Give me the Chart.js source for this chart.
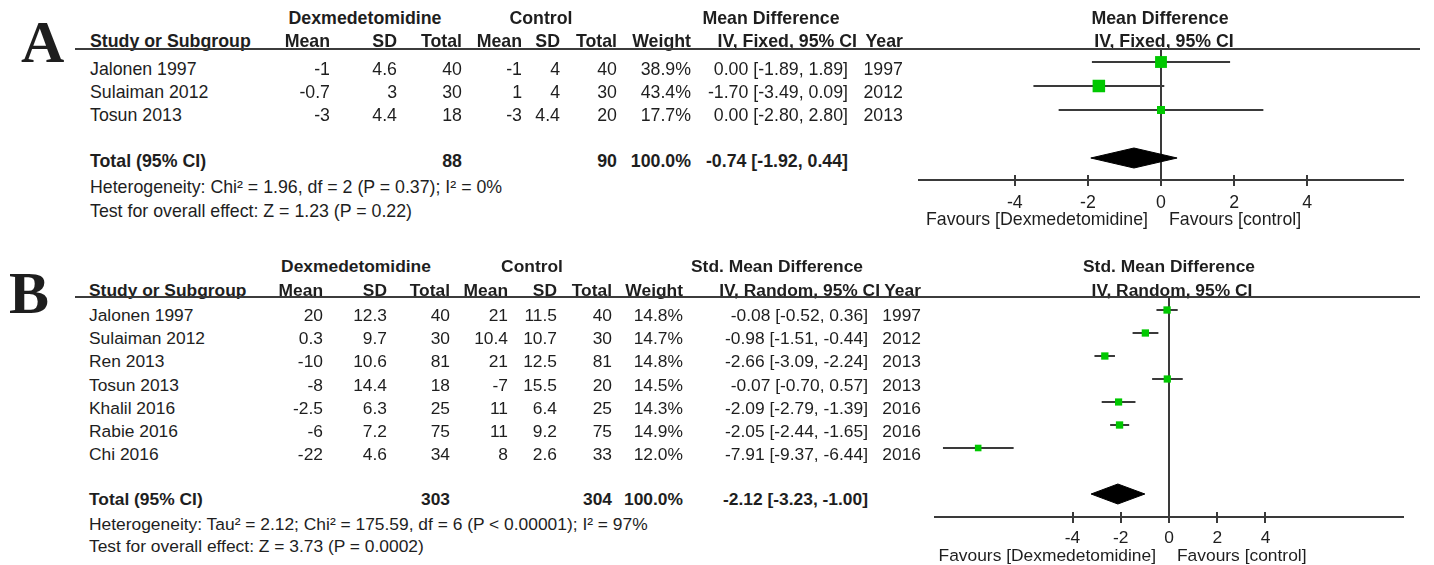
<!DOCTYPE html>
<html>
<head>
<meta charset="utf-8">
<script src="https://cdn.jsdelivr.net/npm/chart.js@4.4.1/dist/chart.umd.min.js"></script>
<style>
  html, body { margin: 0; padding: 0; background: #fff; }
  #page { position: relative; width: 1434px; height: 565px; overflow: hidden;
          font-family: "Liberation Sans", Arial, sans-serif; color: #1e1e1e; }
  .t { position: absolute; white-space: nowrap; line-height: 20px; }
  .rule { position: absolute; height: 2px; background: #3c3c3c; }
  canvas { position: absolute; }
</style>
</head>
<body>
<div id="page">
  <canvas id="plotA" width="534" height="240" style="left:900px;top:0px"></canvas>
  <canvas id="plotB" width="534" height="315" style="left:900px;top:250px"></canvas>
</div>
<script>
// ---------- Forest plot A: mean difference, fixed effect ----------
const studiesA   = ['Jalonen 1997', 'Sulaiman 2012', 'Tosun 2013'];
const yearsA     = [1997, 2012, 2013];
const dexMeanA   = [-1, -0.7, -3];
const dexSdA     = [4.6, 3, 4.4];
const dexTotalA  = [40, 30, 18];
const ctlMeanA   = [-1, 1, -3];
const ctlSdA     = [4, 4, 4.4];
const ctlTotalA  = [40, 30, 20];
const weightA    = [38.9, 43.4, 17.7];
const effectA    = [0.00, -1.70, 0.00];
const lowerA     = [-1.89, -3.49, -2.80];
const upperA     = [1.89, 0.09, 2.80];
const pooledA    = [-0.74, -1.92, 0.44];   // estimate, lower, upper
const totalsA    = [88, 90];
const hetA       = 'Heterogeneity: Chi\u00B2 = 1.96, df = 2 (P = 0.37); I\u00B2 = 0%';
const testA      = 'Test for overall effect: Z = 1.23 (P = 0.22)';

// ---------- Forest plot B: std. mean difference, random effects ----------
const studiesB   = ['Jalonen 1997', 'Sulaiman 2012', 'Ren 2013', 'Tosun 2013', 'Khalil 2016', 'Rabie 2016', 'Chi 2016'];
const yearsB     = [1997, 2012, 2013, 2013, 2016, 2016, 2016];
const dexMeanB   = [20, 0.3, -10, -8, -2.5, -6, -22];
const dexSdB     = [12.3, 9.7, 10.6, 14.4, 6.3, 7.2, 4.6];
const dexTotalB  = [40, 30, 81, 18, 25, 75, 34];
const ctlMeanB   = [21, 10.4, 21, -7, 11, 11, 8];
const ctlSdB     = [11.5, 10.7, 12.5, 15.5, 6.4, 9.2, 2.6];
const ctlTotalB  = [40, 30, 81, 20, 25, 75, 33];
const weightB    = [14.8, 14.7, 14.8, 14.5, 14.3, 14.9, 12.0];
const effectB    = [-0.08, -0.98, -2.66, -0.07, -2.09, -2.05, -7.91];
const lowerB     = [-0.52, -1.51, -3.09, -0.70, -2.79, -2.44, -9.37];
const upperB     = [0.36, -0.44, -2.24, 0.57, -1.39, -1.65, -6.44];
const pooledB    = [-2.12, -3.23, -1.00];
const totalsB    = [303, 304];
const hetB       = 'Heterogeneity: Tau\u00B2 = 2.12; Chi\u00B2 = 175.59, df = 6 (P < 0.00001); I\u00B2 = 97%';
const testB      = 'Test for overall effect: Z = 3.73 (P = 0.0002)';

// shared axis labels
const tickValues = [-4, -2, 0, 2, 4];
const favoursLeft  = 'Favours [Dexmedetomidine]';
const favoursRight = 'Favours [control]';

// ---------- text helpers ----------
const page = document.getElementById('page');
function put(s, x, base, o = {}) {
  const size = o.size || 17.5;
  const lh = 20;
  const asc = o.serif ? 0.891 : 0.905, desc = o.serif ? 0.216 : 0.212;
  const off = (lh - (asc + desc) * size) / 2 + asc * size;
  const d = document.createElement('div');
  d.className = 't';
  d.textContent = s;
  d.style.fontSize = size + 'px';
  d.style.top = (base - off) + 'px';
  if (o.bold) d.style.fontWeight = 'bold';
  if (o.under) d.style.textDecoration = 'underline';
  if (o.serif) d.style.fontFamily = '"Liberation Serif","Times New Roman",serif';
  const align = o.align || 'left';
  if (align === 'left') d.style.left = x + 'px';
  else if (align === 'right') { d.style.left = (x - 500) + 'px'; d.style.width = '500px'; d.style.textAlign = 'right'; }
  else { d.style.left = (x - 500) + 'px'; d.style.width = '1000px'; d.style.textAlign = 'center'; }
  page.appendChild(d);
}
function rule(x1, x2, y) {
  const d = document.createElement('div');
  d.className = 'rule';
  d.style.left = x1 + 'px'; d.style.width = (x2 - x1) + 'px'; d.style.top = (y - 1) + 'px';
  page.appendChild(d);
}
const fmt2 = v => v.toFixed(2);
const ciText = (e, l, u) => `${fmt2(e)} [${fmt2(l)}, ${fmt2(u)}]`;

function drawTable(p, L) {
  const f = L.size, c = L.cols;
  put(p.letter, L.letterX, L.letterBase, { size: 60, bold: true, serif: true });
  // group headings
  put('Dexmedetomidine', L.centers.dex, L.head1, { size: f, bold: true, align: 'center' });
  put('Control', L.centers.ctl, L.head1, { size: f, bold: true, align: 'center' });
  put(p.effectName, L.centers.eff, L.head1, { size: f, bold: true, align: 'center' });
  put(p.effectName, L.centers.plot, L.head1, { size: f, bold: true, align: 'center' });
  // column headings
  const h = { size: f, bold: true, under: true };
  put('Study or Subgroup', c.study, L.head2, h);
  put('Mean', c.mean, L.head2, { ...h, align: 'right' });
  put('SD', c.sd, L.head2, { ...h, align: 'right' });
  put('Total', c.n, L.head2, { ...h, align: 'right' });
  put('Mean', c.cmean, L.head2, { ...h, align: 'right' });
  put('SD', c.csd, L.head2, { ...h, align: 'right' });
  put('Total', c.cn, L.head2, { ...h, align: 'right' });
  put('Weight', c.weight, L.head2, { ...h, align: 'right' });
  put(p.method, c.ciHead, L.head2, { ...h, align: 'right' });
  put('Year', c.year, L.head2, { ...h, align: 'right' });
  put(p.method, L.centers.plotHead, L.head2, { ...h, align: 'center' });
  rule(75, 1420, L.ruleY);
  // study rows
  p.studies.forEach((s, i) => {
    const y = L.row0 + i * L.step;
    const r = { size: f, align: 'right' };
    put(s, c.study, y, { size: f });
    put(String(p.dexMean[i]), c.mean, y, r);
    put(String(p.dexSd[i]), c.sd, y, r);
    put(String(p.dexTotal[i]), c.n, y, r);
    put(String(p.ctlMean[i]), c.cmean, y, r);
    put(String(p.ctlSd[i]), c.csd, y, r);
    put(String(p.ctlTotal[i]), c.cn, y, r);
    put(p.weight[i].toFixed(1) + '%', c.weight, y, r);
    put(ciText(p.effect[i], p.lower[i], p.upper[i]), c.ci, y, r);
    put(String(p.years[i]), c.year, y, r);
  });
  // pooled row
  const b = { size: f, bold: true, align: 'right' };
  put('Total (95% CI)', c.study, L.total, { size: f, bold: true });
  put(String(p.totals[0]), c.n, L.total, b);
  put(String(p.totals[1]), c.cn, L.total, b);
  put('100.0%', c.weight, L.total, b);
  put(ciText(p.pooled[0], p.pooled[1], p.pooled[2]), c.ci, L.total, b);
  put(p.het, c.study, L.het, { size: f });
  put(p.test, c.study, L.test, { size: f });
  // favours labels under the axis
  put(favoursLeft, L.favL, L.fav, { size: f, align: 'right' });
  put(favoursRight, L.favR, L.fav, { size: f });
}

// ---------- plot ----------
const GREEN = 'rgb(0,200,0)';
const INK = '#3a3a3a';
const refLines = {
  id: 'refLines',
  beforeDatasetsDraw(chart) {
    const { ctx, chartArea: a, scales: { x } } = chart;
    const x0 = Math.round(x.getPixelForValue(0));
    ctx.save();
    ctx.strokeStyle = INK; ctx.lineWidth = 2;
    ctx.beginPath(); ctx.moveTo(x0, a.top); ctx.lineTo(x0, a.bottom); ctx.stroke();
    ctx.restore();
  },
  afterDraw(chart) {
    const { ctx, chartArea: a, scales: { x } } = chart;
    ctx.save();
    ctx.strokeStyle = INK; ctx.lineWidth = 2;
    ctx.beginPath();
    x.ticks.forEach(t => {
      const px = Math.round(x.getPixelForValue(t.value));
      ctx.moveTo(px, a.bottom - 5); ctx.lineTo(px, a.bottom + 6);
    });
    ctx.stroke();
    ctx.restore();
  }
};

function drawPlot(id, p, P) {
  const datasets = [];
  // confidence interval whiskers
  p.lower.forEach((lo, i) => datasets.push({
    type: 'line', data: [{ x: lo, y: i }, { x: p.upper[i], y: i }],
    borderColor: INK, borderWidth: 2, pointRadius: 0, fill: false, order: 2
  }));
  // study estimates, square area following weight
  datasets.push({
    type: 'scatter', data: p.effect.map((v, i) => ({ x: v, y: i })),
    pointStyle: 'rect', backgroundColor: GREEN, borderColor: GREEN, borderWidth: 0,
    pointRadius: p.weight.map(w => 1.9 * Math.sqrt(w) / Math.SQRT2), order: 1
  });
  // pooled diamond
  const ty = P.totalRow, hh = P.diamondHalf;
  datasets.push({
    type: 'line',
    data: [{ x: p.pooled[1], y: ty }, { x: p.pooled[0], y: ty - hh }, { x: p.pooled[2], y: ty },
           { x: p.pooled[0], y: ty + hh }, { x: p.pooled[1], y: ty }],
    borderColor: '#000', backgroundColor: '#000', borderWidth: 1, pointRadius: 0,
    fill: 'shape', tension: 0, order: 0
  });

  new Chart(document.getElementById(id), {
    type: 'scatter',
    data: { datasets },
    options: {
      responsive: false, animation: false, events: [],
      layout: { padding: P.pad },
      plugins: { legend: { display: false }, tooltip: { enabled: false } },
      scales: {
        x: {
          type: 'linear', min: P.xMin, max: P.xMax,
          afterBuildTicks: s => { s.ticks = tickValues.map(v => ({ value: v })); },
          afterFit: s => { s.height = P.axisH; },
          grid: { display: false, drawTicks: false },
          border: { display: true, color: INK, width: 2 },
          ticks: { color: '#1e1e1e', padding: P.tickPad, autoSkip: false, maxRotation: 0,
                   font: { family: '"Liberation Sans", Arial, sans-serif', size: P.font } }
        },
        y: { type: 'linear', reverse: true, min: P.yMin, max: P.yMax, display: false }
      }
    },
    plugins: [refLines]
  });
}

const panelA = {
  letter: 'A', effectName: 'Mean Difference', method: 'IV, Fixed, 95% CI',
  studies: studiesA, years: yearsA, dexMean: dexMeanA, dexSd: dexSdA, dexTotal: dexTotalA,
  ctlMean: ctlMeanA, ctlSd: ctlSdA, ctlTotal: ctlTotalA, weight: weightA,
  effect: effectA, lower: lowerA, upper: upperA, pooled: pooledA, totals: totalsA, het: hetA, test: testA
};
const panelB = {
  letter: 'B', effectName: 'Std. Mean Difference', method: 'IV, Random, 95% CI',
  studies: studiesB, years: yearsB, dexMean: dexMeanB, dexSd: dexSdB, dexTotal: dexTotalB,
  ctlMean: ctlMeanB, ctlSd: ctlSdB, ctlTotal: ctlTotalB, weight: weightB,
  effect: effectB, lower: lowerB, upper: upperB, pooled: pooledB, totals: totalsB, het: hetB, test: testB
};

drawTable(panelA, {
  size: 17.75, letterX: 21, letterBase: 62,
  head1: 24, head2: 47.5, ruleY: 49, row0: 75, step: 23.3, total: 166.7, het: 193.3, test: 216.7,
  fav: 225, favL: 1148, favR: 1169,
  centers: { dex: 365, ctl: 541, eff: 771, plot: 1160, plotHead: 1164 },
  cols: { study: 90, mean: 330, sd: 397, n: 462, cmean: 522, csd: 560, cn: 617, weight: 691, ci: 848, ciHead: 857, year: 903 }
});
drawTable(panelB, {
  size: 17.4, letterX: 9, letterBase: 313,
  head1: 271.7, head2: 295.7, ruleY: 297, row0: 321, step: 23.2, total: 505, het: 530, test: 551.7,
  fav: 561.5, favL: 1156, favR: 1177,
  centers: { dex: 356, ctl: 532, eff: 777, plot: 1169, plotHead: 1172 },
  cols: { study: 89, mean: 323, sd: 387, n: 450, cmean: 508, csd: 557, cn: 612, weight: 683, ci: 868, ciHead: 880, year: 921 }
});

drawPlot('plotA', panelA, {
  pad: { left: 19, right: 31, top: 49, bottom: 0 }, axisH: 60, tickPad: 12, font: 17.75,
  xMin: -6.62, xMax: 6.62, yMin: -13 / 24, yMax: 118 / 24, totalRow: 4, diamondHalf: 10 / 24
});
drawPlot('plotB', panelB, {
  pad: { left: 35, right: 31, top: 47, bottom: 0 }, axisH: 48, tickPad: 11, font: 17.4,
  xMin: -9.7, xMax: 9.7, yMin: -13 / 23, yMax: 207 / 23, totalRow: 8, diamondHalf: 10 / 23
});
</script>
</body>
</html>
